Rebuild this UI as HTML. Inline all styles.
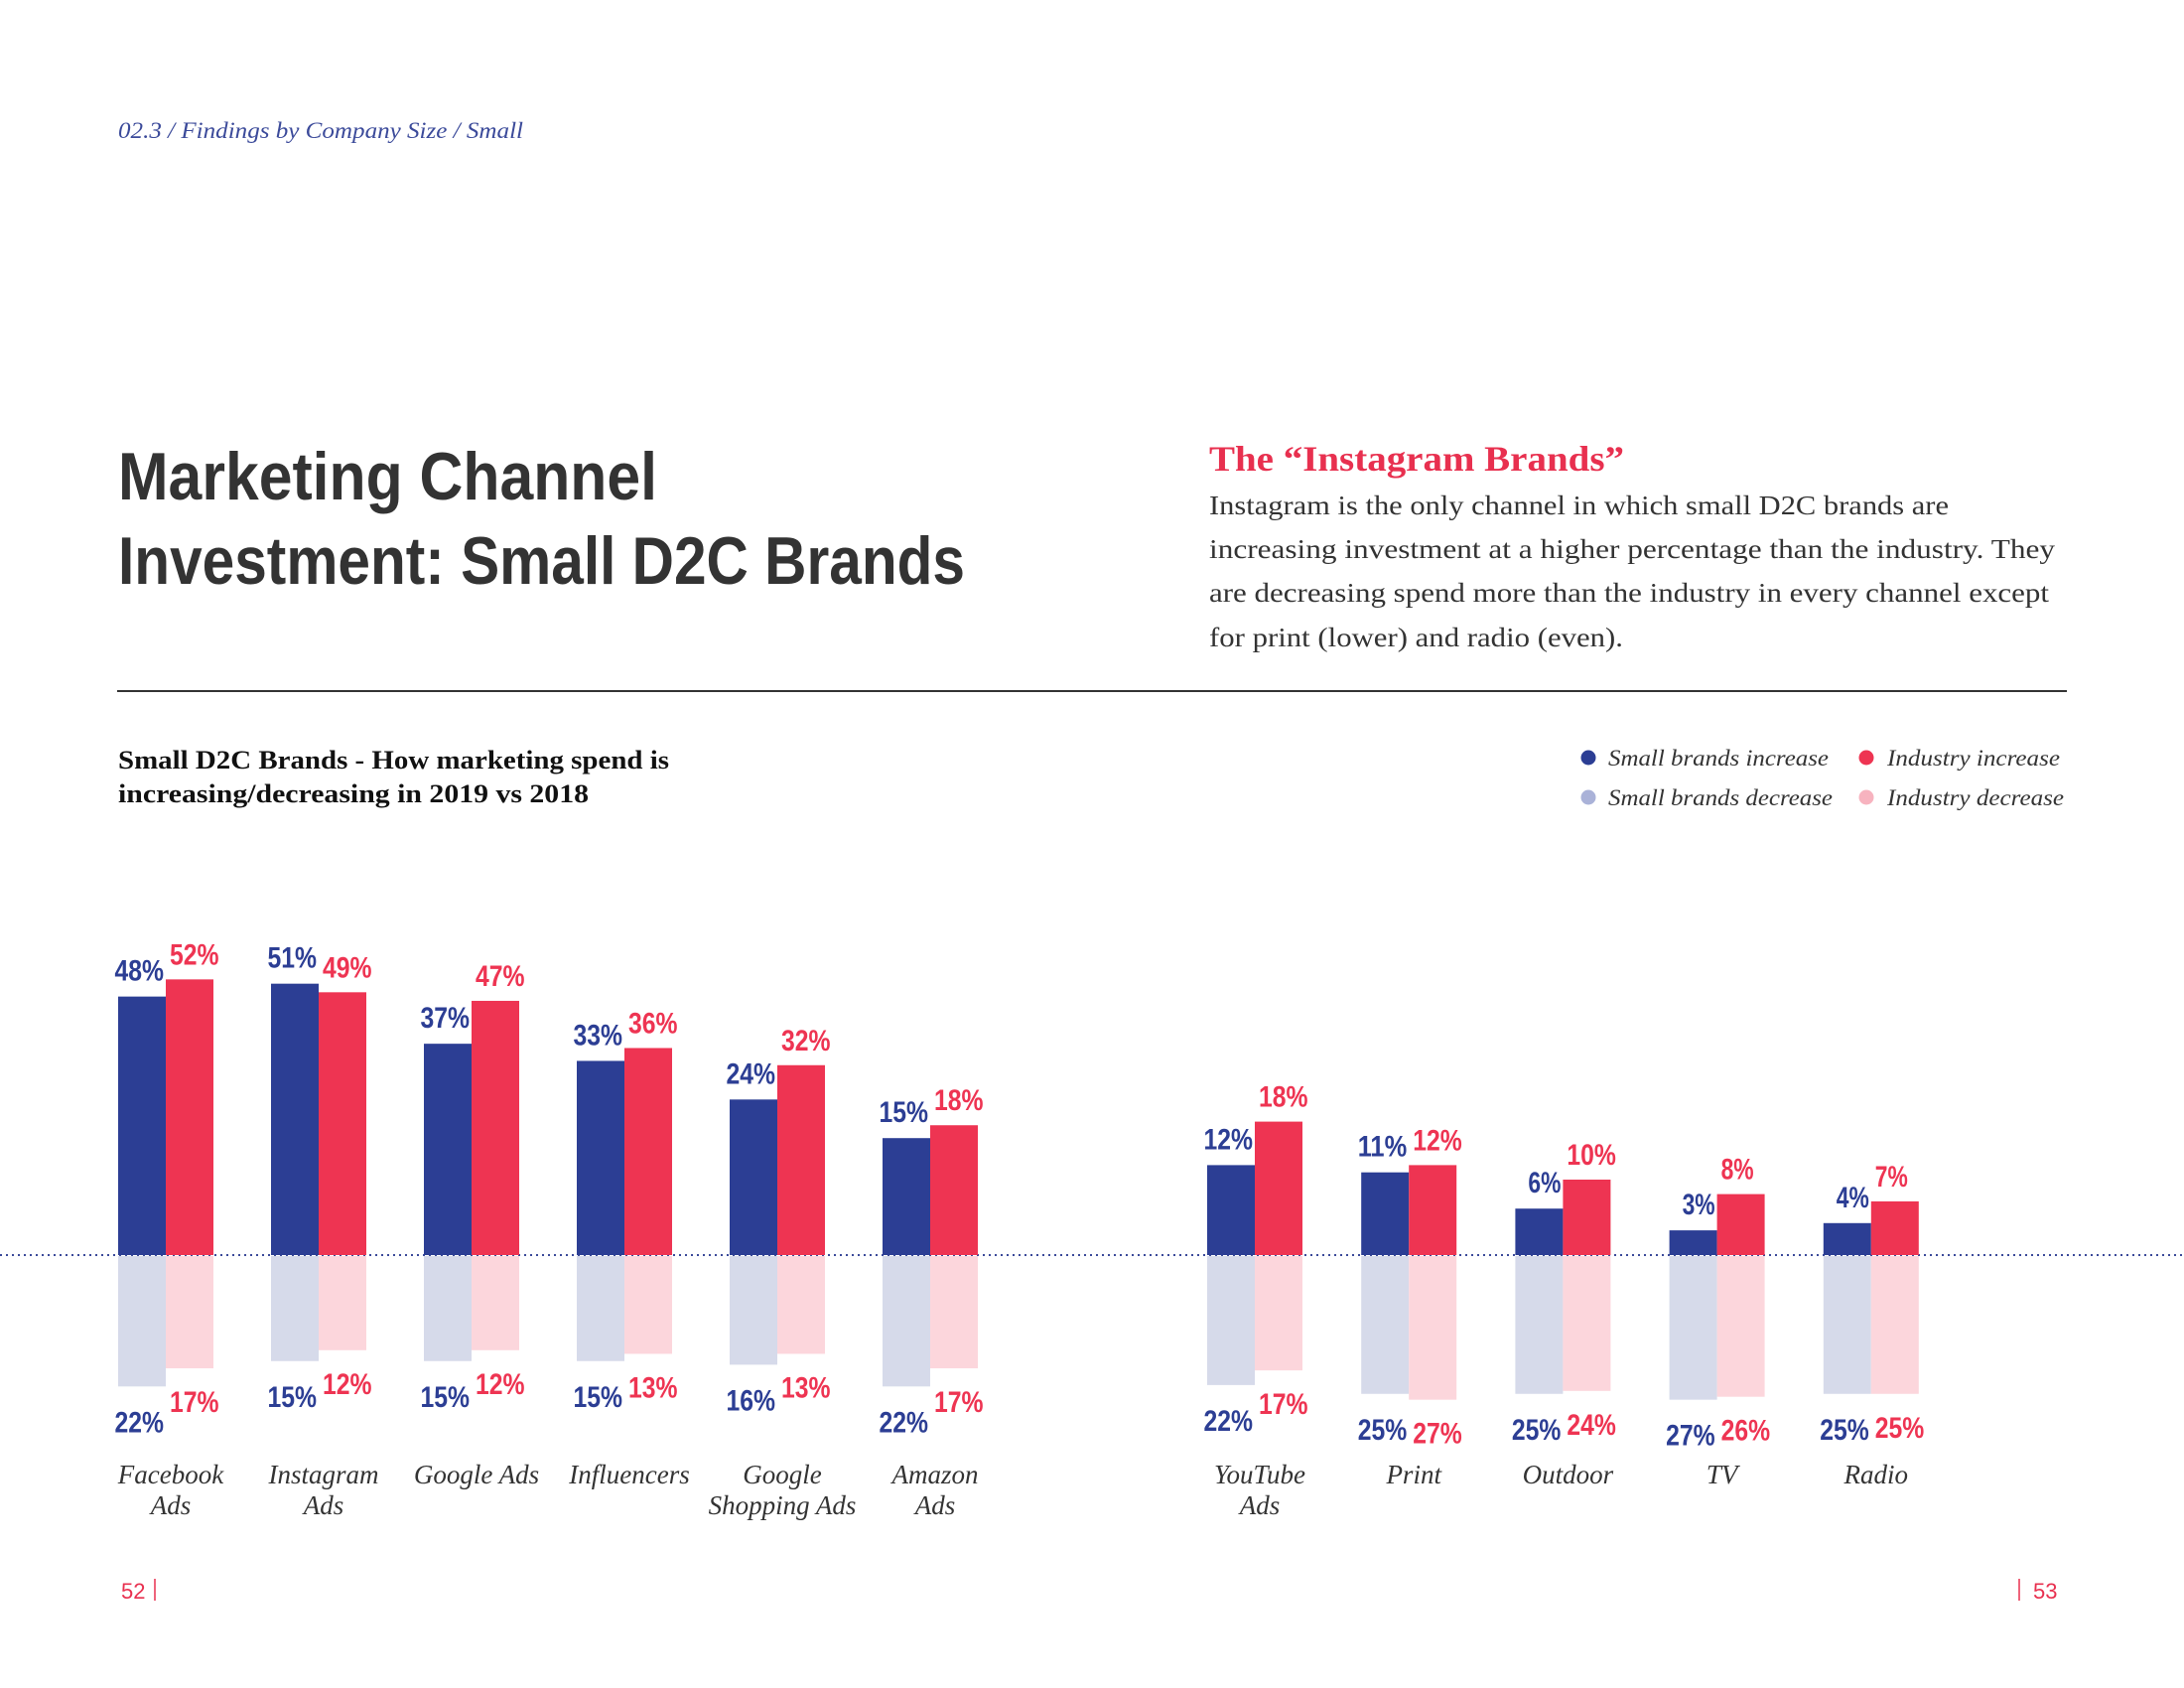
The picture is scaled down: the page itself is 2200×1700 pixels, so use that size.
<!DOCTYPE html>
<html><head><meta charset="utf-8"><style>
html,body{margin:0;padding:0;background:#fff;}
svg{display:block;}
.serif{font-family:"Liberation Serif",serif;}
.cond{font-family:"Liberation Sans Narrow","Liberation Sans",sans-serif;}
</style></head><body>
<svg id="page" width="2200" height="1700" viewBox="0 0 2200 1700" xmlns="http://www.w3.org/2000/svg">
<text x="119" y="139" class="serif" font-style="italic" font-size="23" fill="#3b4a9a" textLength="408" lengthAdjust="spacingAndGlyphs">02.3 / Findings by Company Size / Small</text>
<text x="119" y="503" font-family="Liberation Sans, sans-serif" font-weight="bold" font-size="68" fill="#333" textLength="543" lengthAdjust="spacingAndGlyphs">Marketing Channel</text>
<text x="119" y="588" font-family="Liberation Sans, sans-serif" font-weight="bold" font-size="68" fill="#333" textLength="853" lengthAdjust="spacingAndGlyphs">Investment: Small D2C Brands</text>
<text x="1218" y="474" class="serif" font-weight="bold" font-size="36" fill="#e8304f" textLength="418" lengthAdjust="spacingAndGlyphs">The “Instagram Brands”</text>
<g class="serif" font-size="27" fill="#333">
<text x="1218" y="518" textLength="745" lengthAdjust="spacingAndGlyphs">Instagram is the only channel in which small D2C brands are</text>
<text x="1218" y="562" textLength="852" lengthAdjust="spacingAndGlyphs">increasing investment at a higher percentage than the industry. They</text>
<text x="1218" y="606" textLength="846" lengthAdjust="spacingAndGlyphs">are decreasing spend more than the industry in every channel except</text>
<text x="1218" y="651" textLength="417" lengthAdjust="spacingAndGlyphs">for print (lower) and radio (even).</text>
</g>
<line x1="118" y1="696" x2="2082" y2="696" stroke="#333" stroke-width="2"/>
<g class="serif" font-weight="bold" font-size="26" fill="#111">
<text x="119" y="774" textLength="555" lengthAdjust="spacingAndGlyphs">Small D2C Brands - How marketing spend is</text>
<text x="119" y="808" textLength="474" lengthAdjust="spacingAndGlyphs">increasing/decreasing in 2019 vs 2018</text>
</g>
<g class="serif" font-style="italic" font-size="23" fill="#333">
<g><circle cx="1600" cy="763" r="7.5" fill="#2c3e94"/><text x="1620" y="771" textLength="222" lengthAdjust="spacingAndGlyphs">Small brands increase</text></g>
<g><circle cx="1880" cy="763" r="7.5" fill="#ee3452"/><text x="1901" y="771" textLength="174" lengthAdjust="spacingAndGlyphs">Industry increase</text></g>
<g><circle cx="1600" cy="803" r="7.5" fill="#aab2d8"/><text x="1620" y="811" textLength="226" lengthAdjust="spacingAndGlyphs">Small brands decrease</text></g>
<g><circle cx="1880" cy="803" r="7.5" fill="#f7b3bf"/><text x="1901" y="811" textLength="178" lengthAdjust="spacingAndGlyphs">Industry decrease</text></g>
</g>
<line x1="0" y1="1264" x2="2200" y2="1264" stroke="#3b4a9a" stroke-width="2" stroke-dasharray="2,4"/>
<g id="chart"></g>
<text x="122" y="1610" class="cond" font-size="22" fill="#e8304f">52</text>
<line x1="156" y1="1590" x2="156" y2="1612" stroke="#e8304f" stroke-width="1.5"/>
<line x1="2034" y1="1590" x2="2034" y2="1612" stroke="#e8304f" stroke-width="1.5"/>
<text x="2048" y="1610" class="cond" font-size="22" fill="#e8304f">53</text>
</svg>
<script>
const categories = ["Facebook Ads","Instagram Ads","Google Ads","Influencers","Google Shopping Ads","Amazon Ads","YouTube Ads","Print","Outdoor","TV","Radio"];
const labelLines = [["Facebook","Ads"],["Instagram","Ads"],["Google Ads"],["Influencers"],["Google","Shopping Ads"],["Amazon","Ads"],["YouTube","Ads"],["Print"],["Outdoor"],["TV"],["Radio"]];
const panel = [0,0,0,0,0,0,1,1,1,1,1];
const smallIncrease = [48,51,37,33,24,15,12,11,6,3,4];
const industryIncrease = [52,49,47,36,32,18,18,12,10,8,7];
const smallDecrease = [22,15,15,15,16,22,22,25,25,27,25];
const industryDecrease = [17,12,12,13,13,17,17,27,24,26,25];

const NS = "http://www.w3.org/2000/svg";
const g = document.getElementById('chart');
const baseY = 1264, barW = 48;
// axis functions (each panel/direction has its own scale, as in the original artwork)
function yUp(v, p){ return p===0 ? baseY - (53 + v*4.32) : baseY - (3 + v*7.3); }
function yDown(v, p){ return p===0 ? baseY + (52 + v*3.65) : baseY + (66 + v*2.95); }
function xBand(i){
  const p = panel[i];
  const idx = p===0 ? i : i-6;
  return p===0 ? 119 + idx*154 : 1216 + idx*155.2;
}
function mk(tag, attrs){ const e=document.createElementNS(NS,tag); for(const k in attrs) e.setAttribute(k,attrs[k]); return e; }
function rect(x,y1,y2,fill){ return mk('rect',{x:x,y:Math.min(y1,y2),width:barW,height:Math.abs(y2-y1),fill:fill}); }
function label(x,y,txt,fill,anchor){
  const t = mk('text',{x:x,y:y,fill:fill,'text-anchor':anchor,'font-size':30,'font-weight':'bold','class':'cond',
    textLength: txt.length*16.5, lengthAdjust:'spacingAndGlyphs'});
  t.textContent = txt; return t;
}
categories.forEach((c,i)=>{
  const p = panel[i], x0 = xBand(i), x1 = x0+barW;
  let e;
  e = rect(x0, baseY, yUp(smallIncrease[i],p), '#2c3e94');
  
  
  g.appendChild(e);
  e = rect(x1, baseY, yUp(industryIncrease[i],p), '#ee3452');
  
  
  g.appendChild(e);
  e = rect(x0, baseY+1, yDown(smallDecrease[i],p), '#d6daea');
  
  
  g.appendChild(e);
  e = rect(x1, baseY+1, yDown(industryDecrease[i],p), '#fcd6dc');
  
  
  g.appendChild(e);
  e = label(x1-2, yUp(smallIncrease[i],p)-16, smallIncrease[i]+'%', '#2c3e94', 'end');
  
  
  g.appendChild(e);
  e = label(x1+4, yUp(industryIncrease[i],p)-15, industryIncrease[i]+'%', '#ee3452', 'start');
  
  
  g.appendChild(e);
  e = label(x1-2, yDown(smallDecrease[i],p)+46, smallDecrease[i]+'%', '#2c3e94', 'end');
  
  
  g.appendChild(e);
  e = label(x1+4, yDown(industryDecrease[i],p)+44, industryDecrease[i]+'%', '#ee3452', 'start');
  
  
  g.appendChild(e);
  const t = mk('text',{x:x1+5,'text-anchor':'middle','class':'serif','font-style':'italic','font-size':27,fill:'#333'});
  labelLines[i].forEach((ln,j)=>{
    const s = mk('tspan',{x:x1+5,y:1494+j*31}); s.textContent = ln; t.appendChild(s);
  });
  
  
  g.appendChild(t);
});
</script>
</body></html>
